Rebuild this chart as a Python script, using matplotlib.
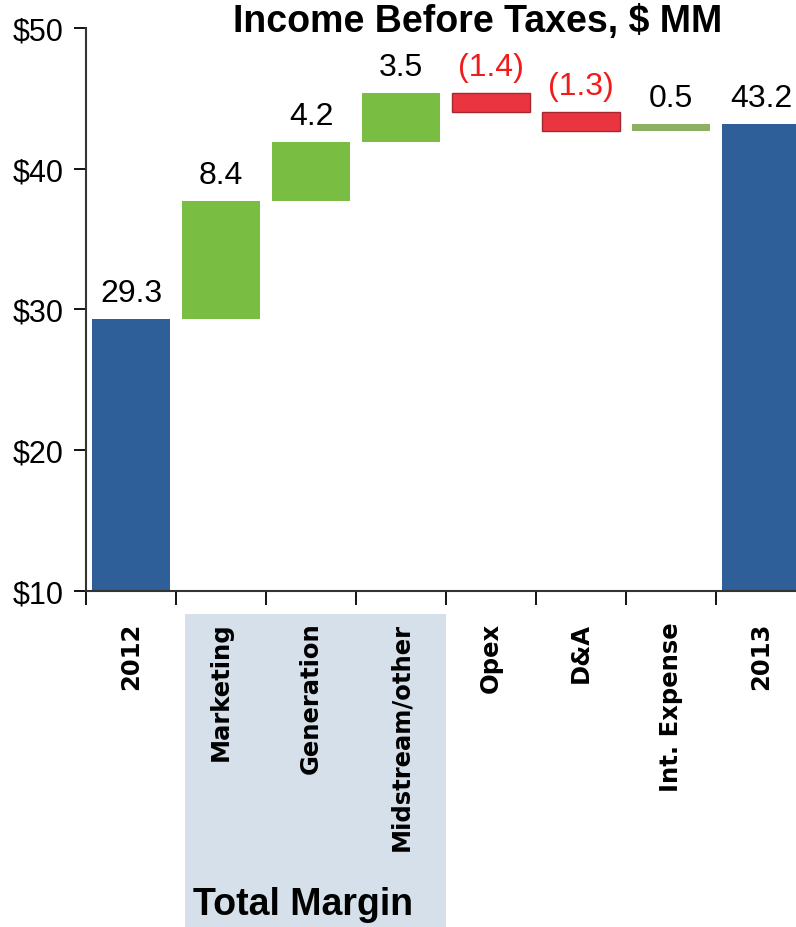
import numpy as np
import matplotlib
matplotlib.use("Agg")
import matplotlib.pyplot as plt
from matplotlib.patches import Rectangle
from matplotlib.transforms import blended_transform_factory

categories = ["2012", "Marketing", "Generation", "Midstream/other",
              "Opex", "D&A", "Int. Expense", "2013"]
values = [29.3, 8.4, 4.2, 3.5, -1.4, -1.3, 0.5, 43.2]
labels = ["29.3", "8.4", "4.2", "3.5", "(1.4)", "(1.3)", "0.5", "43.2"]
kinds = ["total", "up", "up", "up", "down", "down", "up2", "total"]

fill = {"total": "#2f5f98", "up": "#79bd42", "up2": "#8db063", "down": "#ea3540"}
edge = {"total": "#2f5f98", "up": "#79bd42", "up2": "#8db063", "down": "#a3282f"}
txtcol = {"total": "black", "up": "black", "up2": "black", "down": "#f01c1c"}

plt.rcParams['font.family'] = ['Liberation Sans', 'DejaVu Sans']

fig = plt.figure(figsize=(7.96, 9.28), dpi=100)
ax = fig.add_axes([86 / 796, 336 / 928, 720 / 796, 563 / 928])

# waterfall: running total gives bottom of each floating bar
x = np.arange(len(categories))
running = 0.0
for i, (v, k) in enumerate(zip(values, kinds)):
    if k == "total":
        bottom, height = 0, v
        running = v
    else:
        bottom = running if v > 0 else running + v
        height = abs(v)
        running += v
    ax.bar(x[i], height, bottom=bottom, width=0.87, color=fill[k],
           edgecolor=edge[k], linewidth=1 if k == "down" else 0, zorder=2)
    ax.annotate(labels[i], (x[i], bottom + height), xytext=(0, 8),
                textcoords="offset points", ha="center", va="bottom",
                fontsize=23, color=txtcol[kinds[i]])

ax.set_xlim(-0.5, len(categories) - 0.5)
ax.set_ylim(10, 50)
ax.set_yticks([10, 20, 30, 40, 50])
ax.set_yticklabels(["$10", "$20", "$30", "$40", "$50"], fontsize=22)
ax.tick_params(axis="y", direction="out", length=9, width=1.3, pad=7)

ax.set_xticks(x)
ax.set_xticklabels(categories, rotation=90, va="top", ha="center",
                   fontsize=17.5, fontweight="bold", family="DejaVu Sans")
ax.tick_params(axis="x", which="major", length=0, pad=22)
ax.set_xticks(np.arange(-0.5, len(categories)), minor=True)
ax.tick_params(axis="x", which="minor", direction="out", length=10, width=1.3)

for s in ["top", "right"]:
    ax.spines[s].set_visible(False)
for s in ["left", "bottom"]:
    ax.spines[s].set_linewidth(1.5)
    ax.spines[s].set_color("#333333")

# shaded "Total Margin" group under the axis
tr = blended_transform_factory(ax.transData, fig.transFigure)
ax.add_patch(Rectangle((0.6, 0), 2.9, 313 / 928, transform=tr, clip_on=False,
                       facecolor="#d5e0ea", edgecolor="none", zorder=0))
fig.text(0.69, 23 / 928, "Total Margin", transform=tr, ha="left", va="center",
         fontsize=27, fontweight="bold")

fig.text(478 / 796, 1 - 22 / 928, "Income Before Taxes, $ MM", ha="center",
         va="center", fontsize=27, fontweight="bold")

fig.savefig("out.png", dpi=100)
